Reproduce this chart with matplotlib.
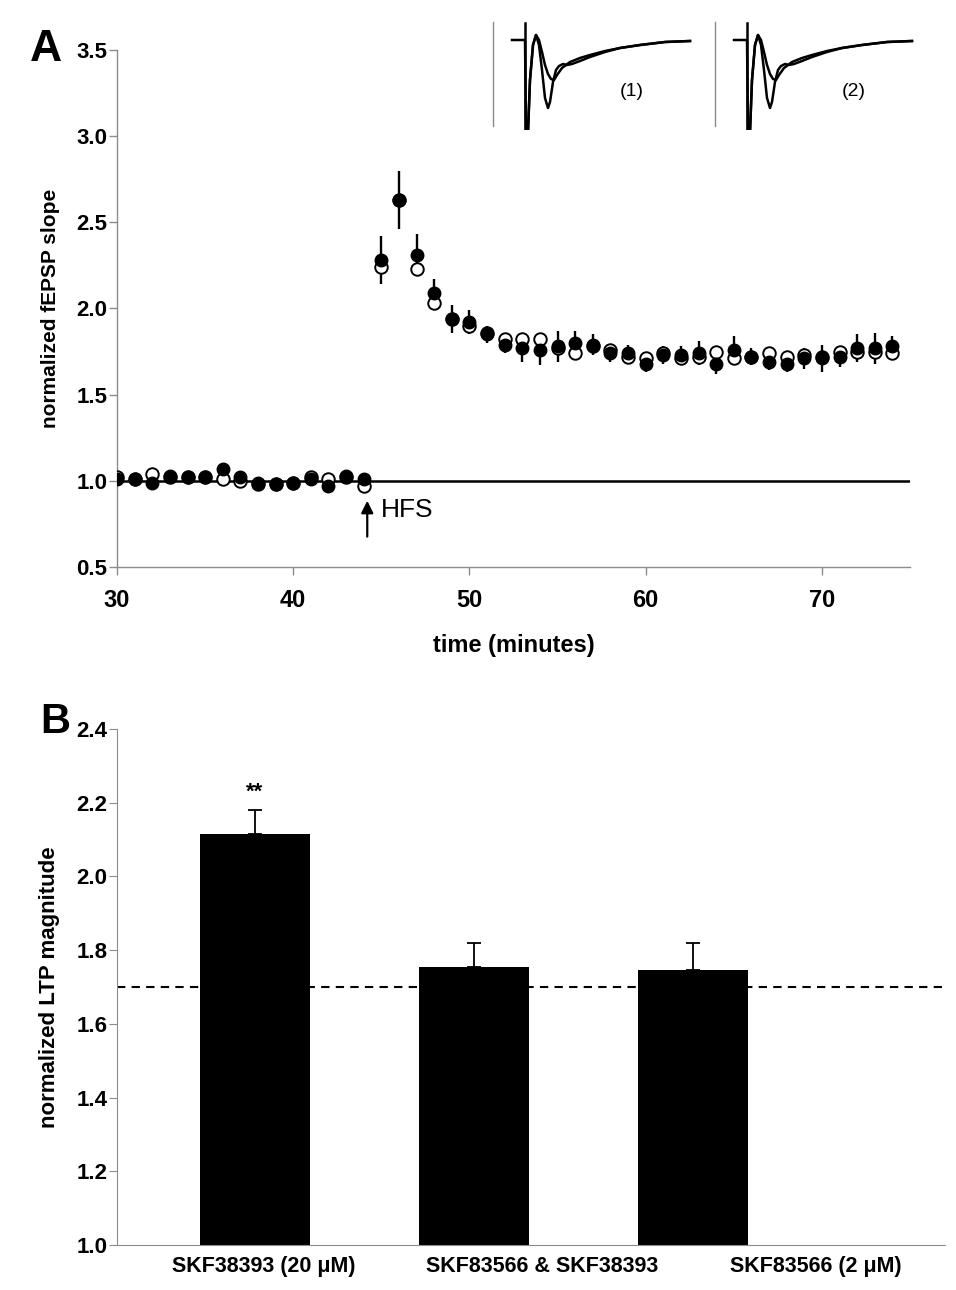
import matplotlib

matplotlib.use("Agg")
import matplotlib.pyplot as plt
import numpy as np

plt.rcParams["font.family"] = ["Liberation Sans", "DejaVu Sans"]

# ---- panel A: time course ----
time_min = list(range(30, 75))
filled_y = [1.01, 1.01, 0.99, 1.03, 1.02, 1.02, 1.07, 1.02, 0.99, 0.98,
            0.99, 1.01, 0.97, 1.03, 1.01,
            2.28, 2.63, 2.31, 2.09, 1.94, 1.92, 1.85, 1.79, 1.77, 1.76,
            1.78, 1.80, 1.79, 1.74, 1.74, 1.68, 1.73, 1.73, 1.74, 1.68,
            1.76, 1.72, 1.69, 1.68, 1.71, 1.71, 1.72, 1.77, 1.77, 1.78]
filled_err = [0.01] * 15 + [
    0.14, 0.17, 0.12, 0.08, 0.08, 0.07, 0.05, 0.05, 0.08, 0.09,
    0.09, 0.07, 0.06, 0.05, 0.05, 0.05, 0.05, 0.05, 0.07, 0.06,
    0.08, 0.05, 0.05, 0.05, 0.06, 0.08, 0.06, 0.08, 0.09, 0.06]
open_y = [1.02, 1.01, 1.04, 1.02, 1.02, 1.02, 1.01, 1.00, 0.98, 0.98,
          0.99, 1.02, 1.01, 1.02, 0.97,
          2.24, 2.63, 2.23, 2.03, 1.94, 1.90, 1.86, 1.82, 1.82, 1.82,
          1.77, 1.74, 1.78, 1.76, 1.72, 1.71, 1.74, 1.71, 1.72, 1.75,
          1.71, 1.72, 1.74, 1.72, 1.73, 1.72, 1.75, 1.75, 1.75, 1.74]

# inset traces (arbitrary units: x in samples, y in signal)
artifact_x = [35, 35]
artifact_y = [17, -92]
trace1_x = [22, 35, 36, 38, 40, 43, 46, 49, 52, 55, 58, 60, 63, 66, 69, 73,
            77, 82, 90, 100, 115, 130, 150, 175, 200]
trace1_y = [0, 0, -92, -92, -40, -5, 5, -5, -30, -58, -68, -62, -42, -30,
            -26, -24, -25, -24, -21, -17, -12, -8, -5, -2, -1]
trace2_x = [38, 40, 43, 46, 49, 52, 55, 58, 61, 64, 67, 72, 80, 90, 100,
            115, 130, 150, 175, 200]
trace2_y = [-92, -40, -5, 5, 0, -12, -25, -34, -39, -40, -35, -28, -22,
            -18, -15, -11, -8, -5, -2, -1]

# ---- panel B: bars ----
bar_labels = ["SKF38393 (20 \u03bcM)", "SKF83566 & SKF38393", "SKF83566 (2 \u03bcM)"]
bar_vals = [2.115, 1.755, 1.745]
bar_err = [0.065, 0.065, 0.075]
control_level = 1.70

GRAY = "#8c8c8c"

fig = plt.figure(figsize=(9.56, 12.9), dpi=100)

# panel A
ax = fig.add_axes([0.1224, 0.5605, 0.8295, 0.4008])
ax.errorbar(time_min, filled_y, yerr=filled_err, fmt="none", ecolor="black",
            elinewidth=1.7, capsize=0, zorder=2)
ax.plot(time_min, open_y, "o", ms=9, mfc="white", mec="black", mew=1.4, zorder=3)
ax.plot(time_min, filled_y, "o", ms=9, mfc="black", mec="black", zorder=4)
ax.axhline(1.0, color="black", lw=1.8, zorder=1)
ax.set_xlim(30, 75)
ax.set_ylim(0.5, 3.5)
ax.set_xticks([30, 40, 50, 60, 70])
ax.set_yticks([0.5, 1.0, 1.5, 2.0, 2.5, 3.0, 3.5])
ax.set_yticklabels(["0.5", "1.0", "1.5", "2.0", "2.5", "3.0", "3.5"])
for s in ["top", "right"]:
    ax.spines[s].set_visible(False)
for s in ["left", "bottom"]:
    ax.spines[s].set_color(GRAY)
    ax.spines[s].set_linewidth(1.0)
ax.tick_params(axis="both", color=GRAY, length=6, width=1.0, direction="out",
               labelsize=16)
ax.tick_params(axis="y", pad=1)
ax.tick_params(axis="x", pad=10, labelsize=17)
for lab in ax.get_xticklabels() + ax.get_yticklabels():
    lab.set_fontweight("bold")
ax.set_xlabel("time (minutes)", fontsize=17, fontweight="bold", labelpad=16)
ax.set_ylabel("normalized fEPSP slope", fontsize=15, fontweight="bold", labelpad=12)
ax.annotate("", xy=(44.2, 0.9), xytext=(44.2, 0.66),
            arrowprops=dict(arrowstyle="-|>", color="black", lw=1.6,
                            mutation_scale=18))
ax.text(45.0, 0.83, "HFS", fontsize=19, va="center", ha="left")
fig.text(0.031, 0.962, "A", fontsize=32, fontweight="bold", va="center")

# insets
for i, lab in enumerate(["(1)", "(2)"]):
    left = (490 + 222 * i) / 956
    iax = fig.add_axes([left, 1 - 130 / 1290, 210 / 956, 130 / 1290])
    iax.set_xlim(0, 210)
    iax.set_ylim(-90, 40)
    iax.axis("off")
    iax.plot([3, 3], [18, -86], color=GRAY, lw=1.0)
    iax.plot(artifact_x, artifact_y, color="black", lw=1.8)
    iax.plot(trace1_x, trace1_y, color="black", lw=1.8)
    iax.plot(trace2_x, trace2_y, color="black", lw=1.8)
    iax.text(142, -52, lab, fontsize=14, ha="center", va="center")

# panel B
bx = fig.add_axes([0.1224, 0.0349, 0.8661, 0.4])
xpos = np.arange(len(bar_vals))
bx.bar(xpos, bar_vals, width=0.5, bottom=0, color="black", zorder=2)
bx.errorbar(xpos, bar_vals, yerr=[[0] * 3, bar_err], fmt="none", ecolor="black",
            elinewidth=1.3, capsize=5, capthick=1.3, zorder=3)
bx.axhline(control_level, color="black", lw=1.5, ls=(0, (4, 3)), zorder=1)
bx.text(xpos[0], bar_vals[0] + bar_err[0] + 0.02, "**", ha="center",
        va="bottom", fontsize=16, fontweight="bold")
bx.set_ylim(1.0, 2.4)
bx.set_xlim(-0.63, 3.15)
bx.set_yticks([1.0, 1.2, 1.4, 1.6, 1.8, 2.0, 2.2, 2.4])
bx.set_yticklabels(["1.0", "1.2", "1.4", "1.6", "1.8", "2.0", "2.2", "2.4"])
# category labels sit slightly right of their bars, as in the original
bx.set_xticks([0.04, 1.31, 2.56])
bx.set_xticklabels(bar_labels, fontsize=15.5, fontweight="bold")
for s in ["top", "right"]:
    bx.spines[s].set_visible(False)
bx.spines["left"].set_color(GRAY)
bx.spines["bottom"].set_color(GRAY)
bx.tick_params(axis="y", color=GRAY, length=6, direction="out", labelsize=16,
               pad=1)
bx.tick_params(axis="x", length=0, pad=8)
for lab in bx.get_yticklabels():
    lab.set_fontweight("bold")
bx.set_ylabel("normalized LTP magnitude", fontsize=16, fontweight="bold",
              labelpad=12)
fig.text(0.042, 0.44, "B", fontsize=30, fontweight="bold", va="center")

fig.savefig("out.png", dpi=100)
